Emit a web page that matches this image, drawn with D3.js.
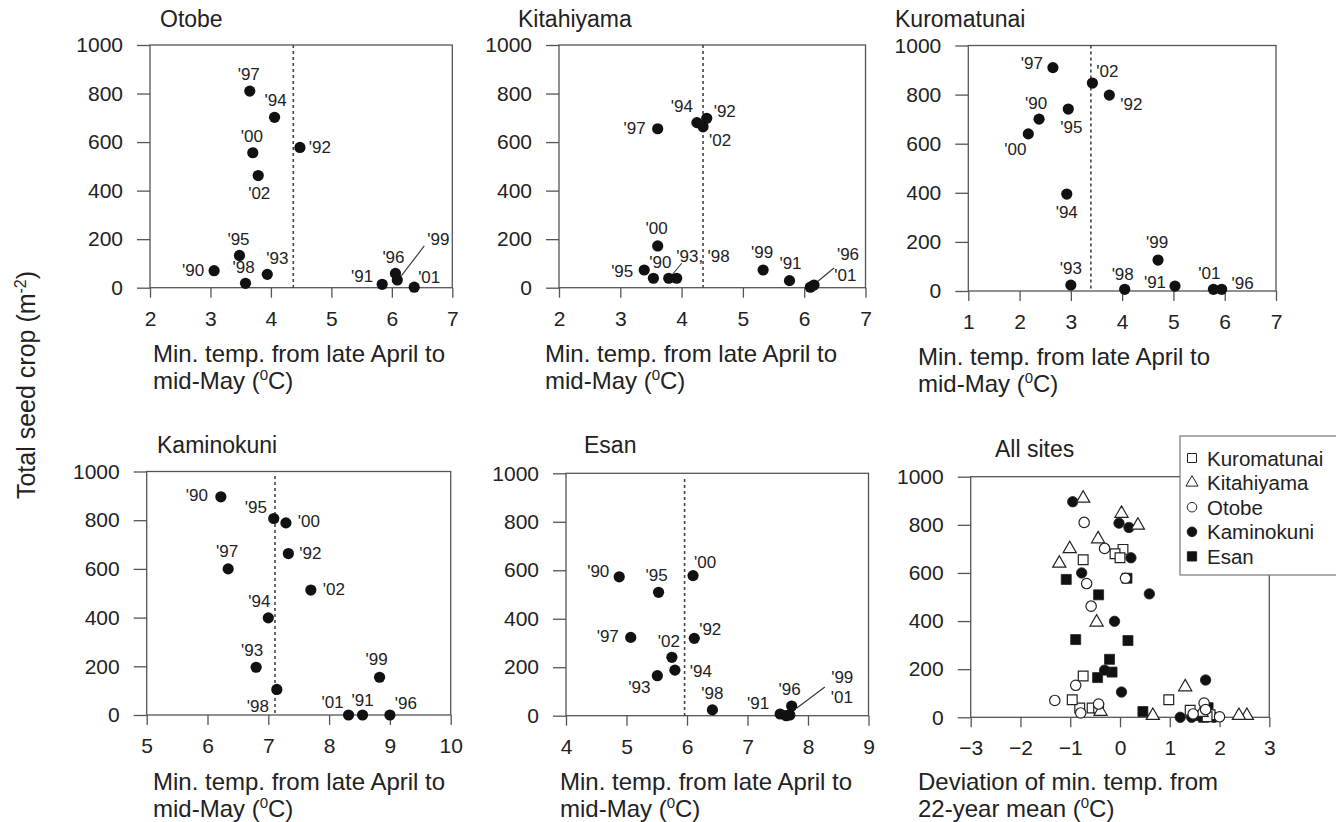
<!DOCTYPE html>
<html><head><meta charset="utf-8">
<script src="https://cdn.jsdelivr.net/npm/d3@7"></script>
<style>
html,body{margin:0;padding:0;background:#fff;}
svg{display:block;font-family:"Liberation Sans",Arial,sans-serif;}
</style></head><body>
<svg id="chart" width="1336" height="822"></svg>
<script>
// ---------------- DATA ----------------
const years = ["90","91","92","93","94","95","96","97","98","99","00","01","02"];
const seedTicks = [0, 200, 400, 600, 800, 1000];

const otobeTemp = [3.06, 5.84, 4.48, 3.94, 4.06, 3.48, 6.06, 3.65, 3.58, 6.09, 3.70, 6.37, 3.79];
const otobeSeed = [70, 14, 578, 55, 702, 133, 59, 810, 18, 32, 556, 2, 462];
const otobeMean = 4.37;

const kitahiyamaTemp = [3.54, 5.76, 4.41, 3.79, 4.25, 3.39, 6.16, 3.61, 3.92, 5.33, 3.61, 6.10, 4.35];
const kitahiyamaSeed = [39, 29, 698, 39, 680, 73, 11, 655, 39, 73, 172, 2, 663];
const kitahiyamaMean = 4.35;

const kuromatunaiTemp = [2.38, 5.03, 3.75, 3.00, 2.92, 2.95, 5.94, 2.65, 4.05, 4.70, 2.17, 5.78, 3.42];
const kuromatunaiSeed = [700, 20, 798, 24, 395, 741, 7, 910, 7, 126, 640, 7, 847];
const kuromatunaiMean = 3.39;

const kaminokuniTemp = [6.22, 8.55, 7.33, 6.80, 7.00, 7.09, 9.00, 6.34, 7.14, 8.83, 7.29, 8.32, 7.70];
const kaminokuniSeed = [896, 0, 663, 196, 399, 807, 0, 600, 105, 155, 789, 0, 513];
const kaminokuniMean = 7.11;

const esanTemp = [4.88, 7.54, 6.12, 5.51, 5.80, 5.53, 7.73, 5.07, 6.42, 7.64, 6.10, 7.70, 5.75];
const esanSeed = [573, 7, 319, 165, 188, 509, 40, 323, 24, 0, 578, 3, 241];
const esanMean = 5.96;

// "All sites" panel (series named by legend entry)
const allKuromatunaiDev  = [-0.81, 1.41, 0.06, -0.56, -0.10, -0.96, 1.81, -0.74, -0.43, 0.98, -0.74, 1.75, 0.00];
const allKuromatunaiSeed = [39, 29, 698, 39, 680, 73, 11, 655, 39, 73, 172, 2, 663];
const allKitahiyamaDev   = [-1.01, 1.64, 0.36, -0.39, -0.47, -0.44, 2.55, -0.74, 0.66, 1.31, -1.22, 2.39, 0.03];
const allKitahiyamaSeed  = [700, 20, 798, 24, 395, 741, 7, 910, 7, 126, 640, 7, 847];
const allOtobeDev        = [-1.31, 1.47, 0.11, -0.43, -0.31, -0.89, 1.69, -0.72, -0.79, 1.72, -0.67, 2.00, -0.58];
const allOtobeSeed       = [70, 14, 578, 55, 702, 133, 59, 810, 18, 32, 556, 2, 462];
const allKaminokuniDev   = [-0.95, 1.44, 0.22, -0.31, -0.11, -0.02, 1.89, -0.77, 0.03, 1.72, 0.18, 1.21, 0.59];
const allKaminokuniSeed  = [896, 0, 663, 196, 399, 807, 0, 600, 105, 155, 789, 0, 513];
const allEsanDev         = [-1.08, 1.58, 0.16, -0.45, -0.16, -0.43, 1.77, -0.89, 0.46, 1.68, 0.14, 1.74, -0.21];
const allEsanSeed        = [573, 7, 319, 165, 188, 509, 40, 323, 24, 0, 578, 3, 241];

// ---------------- LAYOUT (positions / styles) ----------------
const labelOffsets = {
  Otobe:      [[-21,0],[-20,-8],[20,0],[10,-16],[1,-17],[-1,-16],[-2,-16],[-1,-17],[-2,-16],[41,-40],[-1,-16],[15,-10],[1,18]],
  Kitahiyama: [[7,-16],[1,-17],[18,-7],[21,-22],[-15,-16],[-22,2],[34,-31],[-23,0],[42,-22],[-1,-17],[-1,-17],[35,-12],[17,14]],
  Kuromatunai:[[-3,-16],[-20,-4],[22,9],[0,-17],[0,18],[3,18],[21,-6],[-21,-4],[-2,-15],[-1,-18],[-13,16],[-4,-16],[15,-12]],
  Kaminokuni: [[-24,-1],[0,-15],[22,0],[-4,-17],[-9,-16],[-18,-11],[16,-12],[-1,-17],[-19,17],[-3,-18],[23,-1],[-16,-13],[23,-1]],
  Esan:       [[-21,-5],[-22,-11],[16,-9],[-18,12],[26,1],[-2,-17],[-2,-17],[-23,-1],[0,-16],[56,-38],[12,-13],[52,-17],[-3,-16]]
};
const labelSuffix = { Kitahiyama: { "93": "," } };
const leaders = {
  Otobe:      [{year:"99", from:[4,-4], to:[27,-34]}],
  Kitahiyama: [{year:"93", from:[3,-3], to:[13,-15]}, {year:"96", from:[3,-3], to:[20,-17]}],
  Esan:       [{year:"01", from:[7,-7], to:[35,-28]}]
};

const panels = [
  {name:"Otobe", temp:otobeTemp, seed:otobeSeed, mean:otobeMean, xTicks:[2,3,4,5,6,7],
   box:{x0:150, x1:452.3, yTop:45, yBot:287.7}, title:[160,27], xlab:[153,362], dashTop:45},
  {name:"Kitahiyama", temp:kitahiyamaTemp, seed:kitahiyamaSeed, mean:kitahiyamaMean, xTicks:[2,3,4,5,6,7],
   box:{x0:559, x1:865.5, yTop:45, yBot:287.7}, title:[518,27], xlab:[545,362], dashTop:45},
  {name:"Kuromatunai", temp:kuromatunaiTemp, seed:kuromatunaiSeed, mean:kuromatunaiMean, xTicks:[1,2,3,4,5,6,7],
   box:{x0:968.3, x1:1276, yTop:45.5, yBot:291}, title:[895,27], xlab:[918,365], dashTop:45.5},
  {name:"Kaminokuni", temp:kaminokuniTemp, seed:kaminokuniSeed, mean:kaminokuniMean, xTicks:[5,6,7,8,9,10],
   box:{x0:146.7, x1:450.7, yTop:471.5, yBot:715}, title:[157,453], xlab:[153,790], dashTop:476},
  {name:"Esan", temp:esanTemp, seed:esanSeed, mean:esanMean, xTicks:[4,5,6,7,8,9],
   box:{x0:566, x1:868.5, yTop:473.3, yBot:715.7}, title:[584,453], xlab:[560,790], dashTop:479}
];
const allBox = {x0:970.7, x1:1269.3, yTop:476.7, yBot:717.3};
const allTicks = [-3,-2,-1,0,1,2,3];

const INK = "#222", FRAME = "#555";
const TICK_FONT = 21, TITLE_FONT = 23, LABEL_FONT = 24, YEAR_FONT = 17, LEGEND_FONT = 20.5;
const LINE_GAP = 27;

const svg = d3.select("#chart");

function frameAndAxes(g, x, y, box, xTicks) {
  const yAxis = d3.axisLeft(y).tickValues(seedTicks).tickSize(13).tickPadding(14).tickFormat(d3.format("d"));
  const xAxis = d3.axisBottom(x).tickValues(xTicks).tickSize(10).tickPadding(13).tickFormat(d3.format("d"));
  const ya = g.append("g").attr("transform", `translate(${box.x0},0)`).call(yAxis);
  const xa = g.append("g").attr("transform", `translate(0,${box.yBot})`).call(xAxis);
  [ya, xa].forEach(a => {
    a.select(".domain").remove();
    a.selectAll(".tick line").attr("stroke", FRAME).attr("stroke-width", 1.3);
    a.selectAll(".tick text").attr("fill", INK).style("font-size", TICK_FONT + "px")
      .style("font-family", '"Liberation Sans", Arial, sans-serif');
  });
  g.append("rect").attr("x", box.x0).attr("y", box.yTop)
    .attr("width", box.x1 - box.x0).attr("height", box.yBot - box.yTop)
    .attr("fill", "none").attr("stroke", FRAME).attr("stroke-width", 1.3);
}

function twoLineLabel(pos, line1, prefix2) {
  svg.append("text").attr("x", pos[0]).attr("y", pos[1]).attr("fill", INK)
    .style("font-size", LABEL_FONT + "px").text(line1);
  const t2 = svg.append("text").attr("x", pos[0]).attr("y", pos[1] + LINE_GAP).attr("fill", INK)
    .style("font-size", LABEL_FONT + "px");
  t2.append("tspan").text(prefix2 + "(");
  t2.append("tspan").attr("dy", -9).style("font-size", "15px").text("0");
  t2.append("tspan").attr("dy", 9).text("C)");
}

panels.forEach(p => {
  const b = p.box;
  const x = d3.scaleLinear().domain([p.xTicks[0], p.xTicks[p.xTicks.length - 1]]).range([b.x0, b.x1]);
  const y = d3.scaleLinear().domain([0, 1000]).range([b.yBot, b.yTop]);
  const g = svg.append("g");
  frameAndAxes(g, x, y, b, p.xTicks);

  // dashed mean line
  g.append("line").attr("x1", x(p.mean)).attr("x2", x(p.mean))
    .attr("y1", p.dashTop).attr("y2", b.yBot)
    .attr("stroke", "#444").attr("stroke-width", 1.6).attr("stroke-dasharray", "3,3");

  const pts = years.map((yr, i) => ({yr, i, t: p.temp[i], s: p.seed[i]}));
  (leaders[p.name] || []).forEach(l => {
    const d = pts.find(q => q.yr === l.year);
    g.append("line").attr("x1", x(d.t) + l.from[0]).attr("y1", y(d.s) + l.from[1])
      .attr("x2", x(d.t) + l.to[0]).attr("y2", y(d.s) + l.to[1])
      .attr("stroke", "#333").attr("stroke-width", 1.1);
  });
  g.selectAll("circle.pt").data(pts).enter().append("circle").attr("class", "pt")
    .attr("cx", d => x(d.t)).attr("cy", d => y(d.s)).attr("r", 5.6).attr("fill", "#111");
  g.selectAll("text.yr").data(pts).enter().append("text").attr("class", "yr")
    .attr("x", d => x(d.t) + labelOffsets[p.name][d.i][0])
    .attr("y", d => y(d.s) + labelOffsets[p.name][d.i][1])
    .attr("text-anchor", "middle").attr("dominant-baseline", "central")
    .attr("fill", INK).style("font-size", YEAR_FONT + "px")
    .text(d => "'" + d.yr + (((labelSuffix[p.name] || {})[d.yr]) || ""));

  svg.append("text").attr("x", p.title[0]).attr("y", p.title[1]).attr("fill", INK)
    .style("font-size", TITLE_FONT + "px").text(p.name);
  twoLineLabel(p.xlab, "Min. temp. from late April to", "mid-May ");
});

// ---------------- All sites ----------------
{
  const b = allBox;
  const x = d3.scaleLinear().domain([-3, 3]).range([b.x0, b.x1]);
  const y = d3.scaleLinear().domain([0, 1000]).range([b.yBot, b.yTop]);
  const g = svg.append("g");
  frameAndAxes(g, x, y, b, allTicks);

  const series = [
    {label:"Esan",        dev:allEsanDev,        seed:allEsanSeed,        type:d3.symbolSquare,   size:100, fill:"#111"},
    {label:"Kaminokuni",  dev:allKaminokuniDev,  seed:allKaminokuniSeed,  type:d3.symbolCircle,   size:85,  fill:"#111"},
    {label:"Kuromatunai", dev:allKuromatunaiDev, seed:allKuromatunaiSeed, type:d3.symbolSquare,   size:95,  fill:"#fff"},
    {label:"Kitahiyama",  dev:allKitahiyamaDev,  seed:allKitahiyamaSeed,  type:d3.symbolTriangle, size:75,  fill:"#fff"},
    {label:"Otobe",       dev:allOtobeDev,       seed:allOtobeSeed,       type:d3.symbolCircle,   size:85,  fill:"#fff"}
  ];
  series.forEach(s => {
    const sym = d3.symbol().type(s.type).size(s.size);
    g.selectAll(null).data(s.dev.map((v, i) => [v, s.seed[i]])).enter().append("path")
      .attr("d", sym).attr("transform", d => `translate(${x(d[0])},${y(d[1])})`)
      .attr("fill", s.fill).attr("stroke", "#222").attr("stroke-width", s.fill === "#fff" ? 1.2 : 0.8);
  });

  svg.append("text").attr("x", 995).attr("y", 457).attr("fill", INK)
    .style("font-size", TITLE_FONT + "px").text("All sites");

  // legend
  const legendOrder = ["Kuromatunai", "Kitahiyama", "Otobe", "Kaminokuni", "Esan"];
  const lg = svg.append("g");
  lg.append("rect").attr("x", 1180).attr("y", 436).attr("width", 170).attr("height", 139)
    .attr("fill", "#fff").attr("stroke", "#777").attr("stroke-width", 1.2);
  legendOrder.forEach((name, i) => {
    const s = series.find(q => q.label === name);
    const cy = 458 + i * 24.6;
    lg.append("path").attr("d", d3.symbol().type(s.type).size(s.size * 0.85))
      .attr("transform", `translate(1192,${cy})`).attr("fill", s.fill)
      .attr("stroke", "#222").attr("stroke-width", 1);
    lg.append("text").attr("x", 1207).attr("y", cy).attr("dominant-baseline", "central")
      .attr("fill", INK).style("font-size", LEGEND_FONT + "px").text(name);
  });

  svg.append("text").attr("x", 918).attr("y", 790).attr("fill", INK)
    .style("font-size", LABEL_FONT + "px").text("Deviation of min. temp. from");
  const t2 = svg.append("text").attr("x", 918).attr("y", 790 + LINE_GAP).attr("fill", INK)
    .style("font-size", LABEL_FONT + "px");
  t2.append("tspan").text("22-year mean (");
  t2.append("tspan").attr("dy", -9).style("font-size", "15px").text("0");
  t2.append("tspan").attr("dy", 9).text("C)");
}

// y-axis title
{
  const t = svg.append("text").attr("transform", "translate(35,385) rotate(-90)")
    .attr("text-anchor", "middle").attr("fill", INK).style("font-size", "25px");
  t.append("tspan").text("Total seed crop (m");
  t.append("tspan").attr("dy", -9).style("font-size", "16px").text("-2");
  t.append("tspan").attr("dy", 9).text(")");
}
</script>
</body></html>
